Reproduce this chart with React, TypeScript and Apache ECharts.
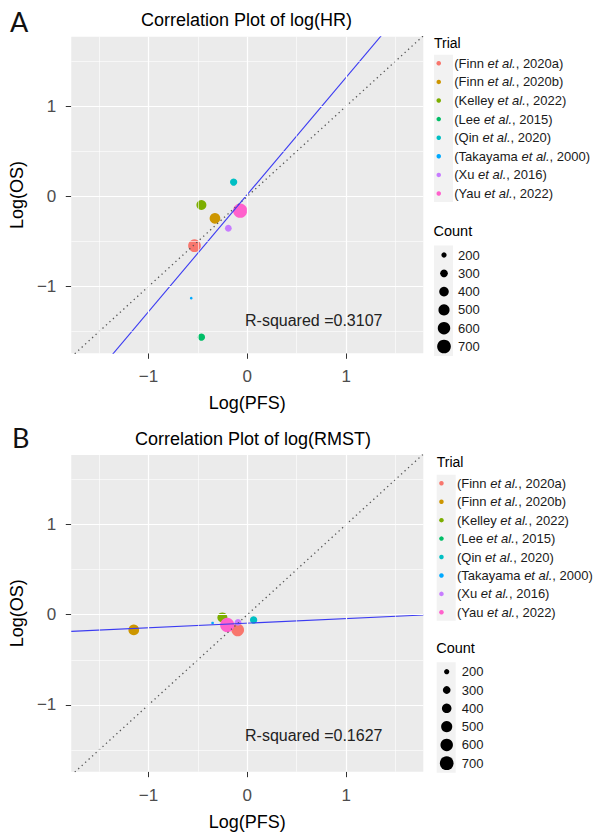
import React, { useEffect, useRef } from "react";
import * as echarts from "echarts";

// ---------- data ----------
const trials = [
  "(Finn et al., 2020a)",
  "(Finn et al., 2020b)",
  "(Kelley et al., 2022)",
  "(Lee et al., 2015)",
  "(Qin et al., 2020)",
  "(Takayama et al., 2000)",
  "(Xu et al., 2016)",
  "(Yau et al., 2022)",
];
const trialColors = ["#F8766D", "#CD9600", "#7CAE00", "#00BE67", "#00BFC4", "#00A9FF", "#C77CFF", "#FF61CC"];
const counts = [615, 470, 425, 280, 280, 135, 255, 750];

// Panel A: log(HR)
const hrPFS = [-0.534, -0.327, -0.464, -0.464, -0.138, -0.567, -0.192, -0.072];
const hrOS = [-0.547, -0.244, -0.096, -1.561, 0.158, -1.129, -0.354, -0.159];
// Panel B: log(RMST)
const rmstPFS = [-0.097, -1.148, -0.252, -0.19, 0.064, -0.351, -0.094, -0.203];
const rmstOS = [-0.169, -0.169, -0.03, -0.12, -0.059, -0.092, -0.085, -0.114];

const fitHR = { slope: 1.3, intercept: 0.02, r2: "0.3107" };
const fitRMST = { slope: 0.051, intercept: -0.094, r2: "0.1627" };

const countBreaks = [200, 300, 400, 500, 600, 700];
const tickValues = [-1, 0, 1];
const majorGrid = [-1, 0, 1];
const minorGrid = [-1.5, -0.5, 0.5, 1.5];
const X_RANGE = [-1.78, 1.78];
const Y_RANGE = [-1.74, 1.77];

// ---------- styling / layout ----------
const FONT = "'Liberation Sans', Arial, sans-serif";
// area of a point grows linearly with count
const SIZE_A = -36;
const SIZE_B = 0.32;
const sizeFor = (c: number) => Math.sqrt(Math.max(4, SIZE_A + SIZE_B * c));

const panels = [
  {
    letter: "A",
    title: "Correlation Plot of log(HR)",
    xs: hrPFS,
    ys: hrOS,
    fit: fitHR,
    grid: { left: 66.7, top: 36.7, width: 356.6, height: 316.6 },
    letterPos: [10, 21.7],
    titlePos: [246.5, 11],
    r2Pos: [245, 320],
    legend: { keyX: 444, textX: 458, trialTitleY: 43, firstY: 63.3, step: 18.6, countTitleY: 231, countFirstY: 255, countStep: 18.3 },
  },
  {
    letter: "B",
    title: "Correlation Plot of log(RMST)",
    xs: rmstPFS,
    ys: rmstOS,
    fit: fitRMST,
    grid: { left: 66.7, top: 455, width: 356.6, height: 316.7 },
    letterPos: [12, 437.5],
    titlePos: [253, 429.5],
    r2Pos: [245, 735],
    legend: { keyX: 446.7, textX: 461.7, trialTitleY: 461.7, firstY: 483.3, step: 18.43, countTitleY: 648.3, countFirstY: 671.7, countStep: 18.3 },
  },
];

const minus = (v: number) => String(v).replace("-", "\u2212");

function buildOption() {
  const grids: any[] = [];
  const xAxes: any[] = [];
  const yAxes: any[] = [];
  const series: any[] = [];
  const legends: any[] = [];
  const titles: any[] = [];
  const graphics: any[] = [];

  panels.forEach((p, i) => {
    grids.push({ ...p.grid, show: true, backgroundColor: "#EBEBEB", borderWidth: 0, containLabel: false });
    const axisCommon = {
      type: "value",
      gridIndex: i,
      axisLine: { show: false, onZero: false },
      axisTick: { show: true, customValues: tickValues, length: 5.5, lineStyle: { color: "#333333", width: 1 } },
      axisLabel: {
        customValues: tickValues,
        margin: 15,
        fontSize: 17,
        color: "#4D4D4D",
        fontFamily: FONT,
        formatter: (v: number) => minus(v),
      },
      splitLine: { show: false },
      nameLocation: "middle",
      nameTextStyle: { fontSize: 18, color: "#000", fontFamily: FONT },
    };
    xAxes.push({ ...axisCommon, min: X_RANGE[0], max: X_RANGE[1], name: "Log(PFS)", nameGap: 41 });
    yAxes.push({ ...axisCommon, min: Y_RANGE[0], max: Y_RANGE[1], name: "Log(OS)", nameGap: 40 });

    // gridlines (through the axes' scales)
    const gl = (key: string, v: number, w: number) => ({ [key]: v, lineStyle: { color: "#FFFFFF", width: w, type: "solid" } });
    series.push({
      type: "scatter",
      name: "grid" + i,
      xAxisIndex: i,
      yAxisIndex: i,
      data: [],
      z: 1,
      silent: true,
      markLine: {
        silent: true,
        symbol: ["none", "none"],
        label: { show: false },
        animation: false,
        data: [
          ...minorGrid.map((v) => gl("xAxis", v, 0.6)),
          ...minorGrid.map((v) => gl("yAxis", v, 0.6)),
          ...majorGrid.map((v) => gl("xAxis", v, 1.2)),
          ...majorGrid.map((v) => gl("yAxis", v, 1.2)),
        ],
      },
    });

    trials.forEach((t, k) => {
      series.push({
        type: "scatter",
        name: t,
        xAxisIndex: i,
        yAxisIndex: i,
        data: [[p.xs[k], p.ys[k], counts[k]]],
        symbol: "circle",
        symbolSize: (v: number[]) => sizeFor(v[2]),
        itemStyle: { color: trialColors[k], opacity: 1 },
        z: 3,
      });
    });

    series.push({
      type: "line",
      name: "identity" + i,
      xAxisIndex: i,
      yAxisIndex: i,
      data: [
        [X_RANGE[0], X_RANGE[0]],
        [X_RANGE[1], X_RANGE[1]],
      ],
      symbol: "none",
      silent: true,
      clip: true,
      lineStyle: { color: "#555555", width: 1.3, type: [1.3, 3.4] },
      z: 4,
    });
    series.push({
      type: "line",
      name: "fit" + i,
      xAxisIndex: i,
      yAxisIndex: i,
      data: X_RANGE.map((x) => [x, p.fit.intercept + p.fit.slope * x]),
      symbol: "none",
      silent: true,
      clip: true,
      lineStyle: { color: "#3B3BF2", width: 1.1 },
      z: 4,
    });

    titles.push({
      text: p.title,
      left: p.titlePos[0],
      top: p.titlePos[1],
      textAlign: "center",
      padding: 0,
      textStyle: { fontSize: 18, fontWeight: "normal", color: "#000", fontFamily: FONT },
    });

    const L = p.legend;
    legends.push({
      data: trials,
      orient: "vertical",
      left: L.keyX - 7.5,
      top: L.firstY - 8,
      padding: 0,
      itemWidth: 21,
      itemHeight: 4.5,
      itemGap: L.step - 16,
      icon: "circle",
      selectedMode: false,
      formatter: (name: string) => name.replace("et al.", "{i|et al.}"),
      textStyle: {
        fontSize: 13,
        lineHeight: 16,
        color: "#1A1A1A",
        fontFamily: FONT,
        rich: { i: { fontSize: 13, lineHeight: 16, fontStyle: "italic", color: "#1A1A1A", fontFamily: FONT } },
      },
    });

    // legend key backgrounds
    graphics.push({
      type: "rect",
      shape: { x: L.keyX - 10, y: L.firstY - 8.5, width: 19, height: L.step * 7 + 17 },
      style: { fill: "#F2F2F2" },
      z: 0,
      silent: true,
    });
    graphics.push({
      type: "rect",
      shape: { x: L.keyX - 10, y: L.countFirstY - 9.5, width: 19, height: L.countStep * 5 + 19 },
      style: { fill: "#F2F2F2" },
      z: 0,
      silent: true,
    });
    graphics.push({
      type: "text",
      x: L.keyX - 10,
      y: L.trialTitleY,
      style: { text: "Trial", fontSize: 14, fill: "#000", fontFamily: FONT, verticalAlign: "middle", align: "left" },
    });
    graphics.push({
      type: "text",
      x: L.keyX - 10.5,
      y: L.countTitleY,
      style: { text: "Count", fontSize: 14.5, fill: "#000", fontFamily: FONT, verticalAlign: "middle", align: "left" },
    });
    countBreaks.forEach((c, k) => {
      const cy = L.countFirstY + k * L.countStep;
      graphics.push({
        type: "circle",
        shape: { cx: L.keyX, cy, r: sizeFor(c) / 2 },
        style: { fill: "#000" },
        z: 2,
      });
      graphics.push({
        type: "text",
        x: L.textX,
        y: cy,
        style: { text: String(c), fontSize: 13, fill: "#1A1A1A", fontFamily: FONT, verticalAlign: "middle", align: "left" },
      });
    });

    graphics.push({
      type: "text",
      x: p.letterPos[0],
      y: p.letterPos[1],
      style: { text: p.letter, fontSize: 27, fill: "#111", fontFamily: "Lato, 'Liberation Sans', sans-serif", verticalAlign: "middle", align: "left" },
    });
    graphics.push({
      type: "text",
      x: p.r2Pos[0],
      y: p.r2Pos[1],
      z: 10,
      style: { text: "R-squared =" + p.fit.r2, fontSize: 16, fill: "#222", fontFamily: FONT, verticalAlign: "middle", align: "left" },
    });
  });

  return {
    animation: false,
    backgroundColor: "#FFFFFF",
    title: titles,
    grid: grids,
    xAxis: xAxes,
    yAxis: yAxes,
    legend: legends,
    series,
    graphic: graphics,
  };
}

export default function App() {
  const ref = useRef<HTMLDivElement>(null);
  useEffect(() => {
    if (!ref.current) return;
    const chart = echarts.init(ref.current, undefined, { renderer: "svg" });
    chart.setOption(buildOption() as any);
    return () => chart.dispose();
  }, []);
  return (
    <div
      ref={ref}
      style={{ position: "absolute", left: 0, top: 0, width: 598, height: 835, background: "#fff" }}
    />
  );
}
